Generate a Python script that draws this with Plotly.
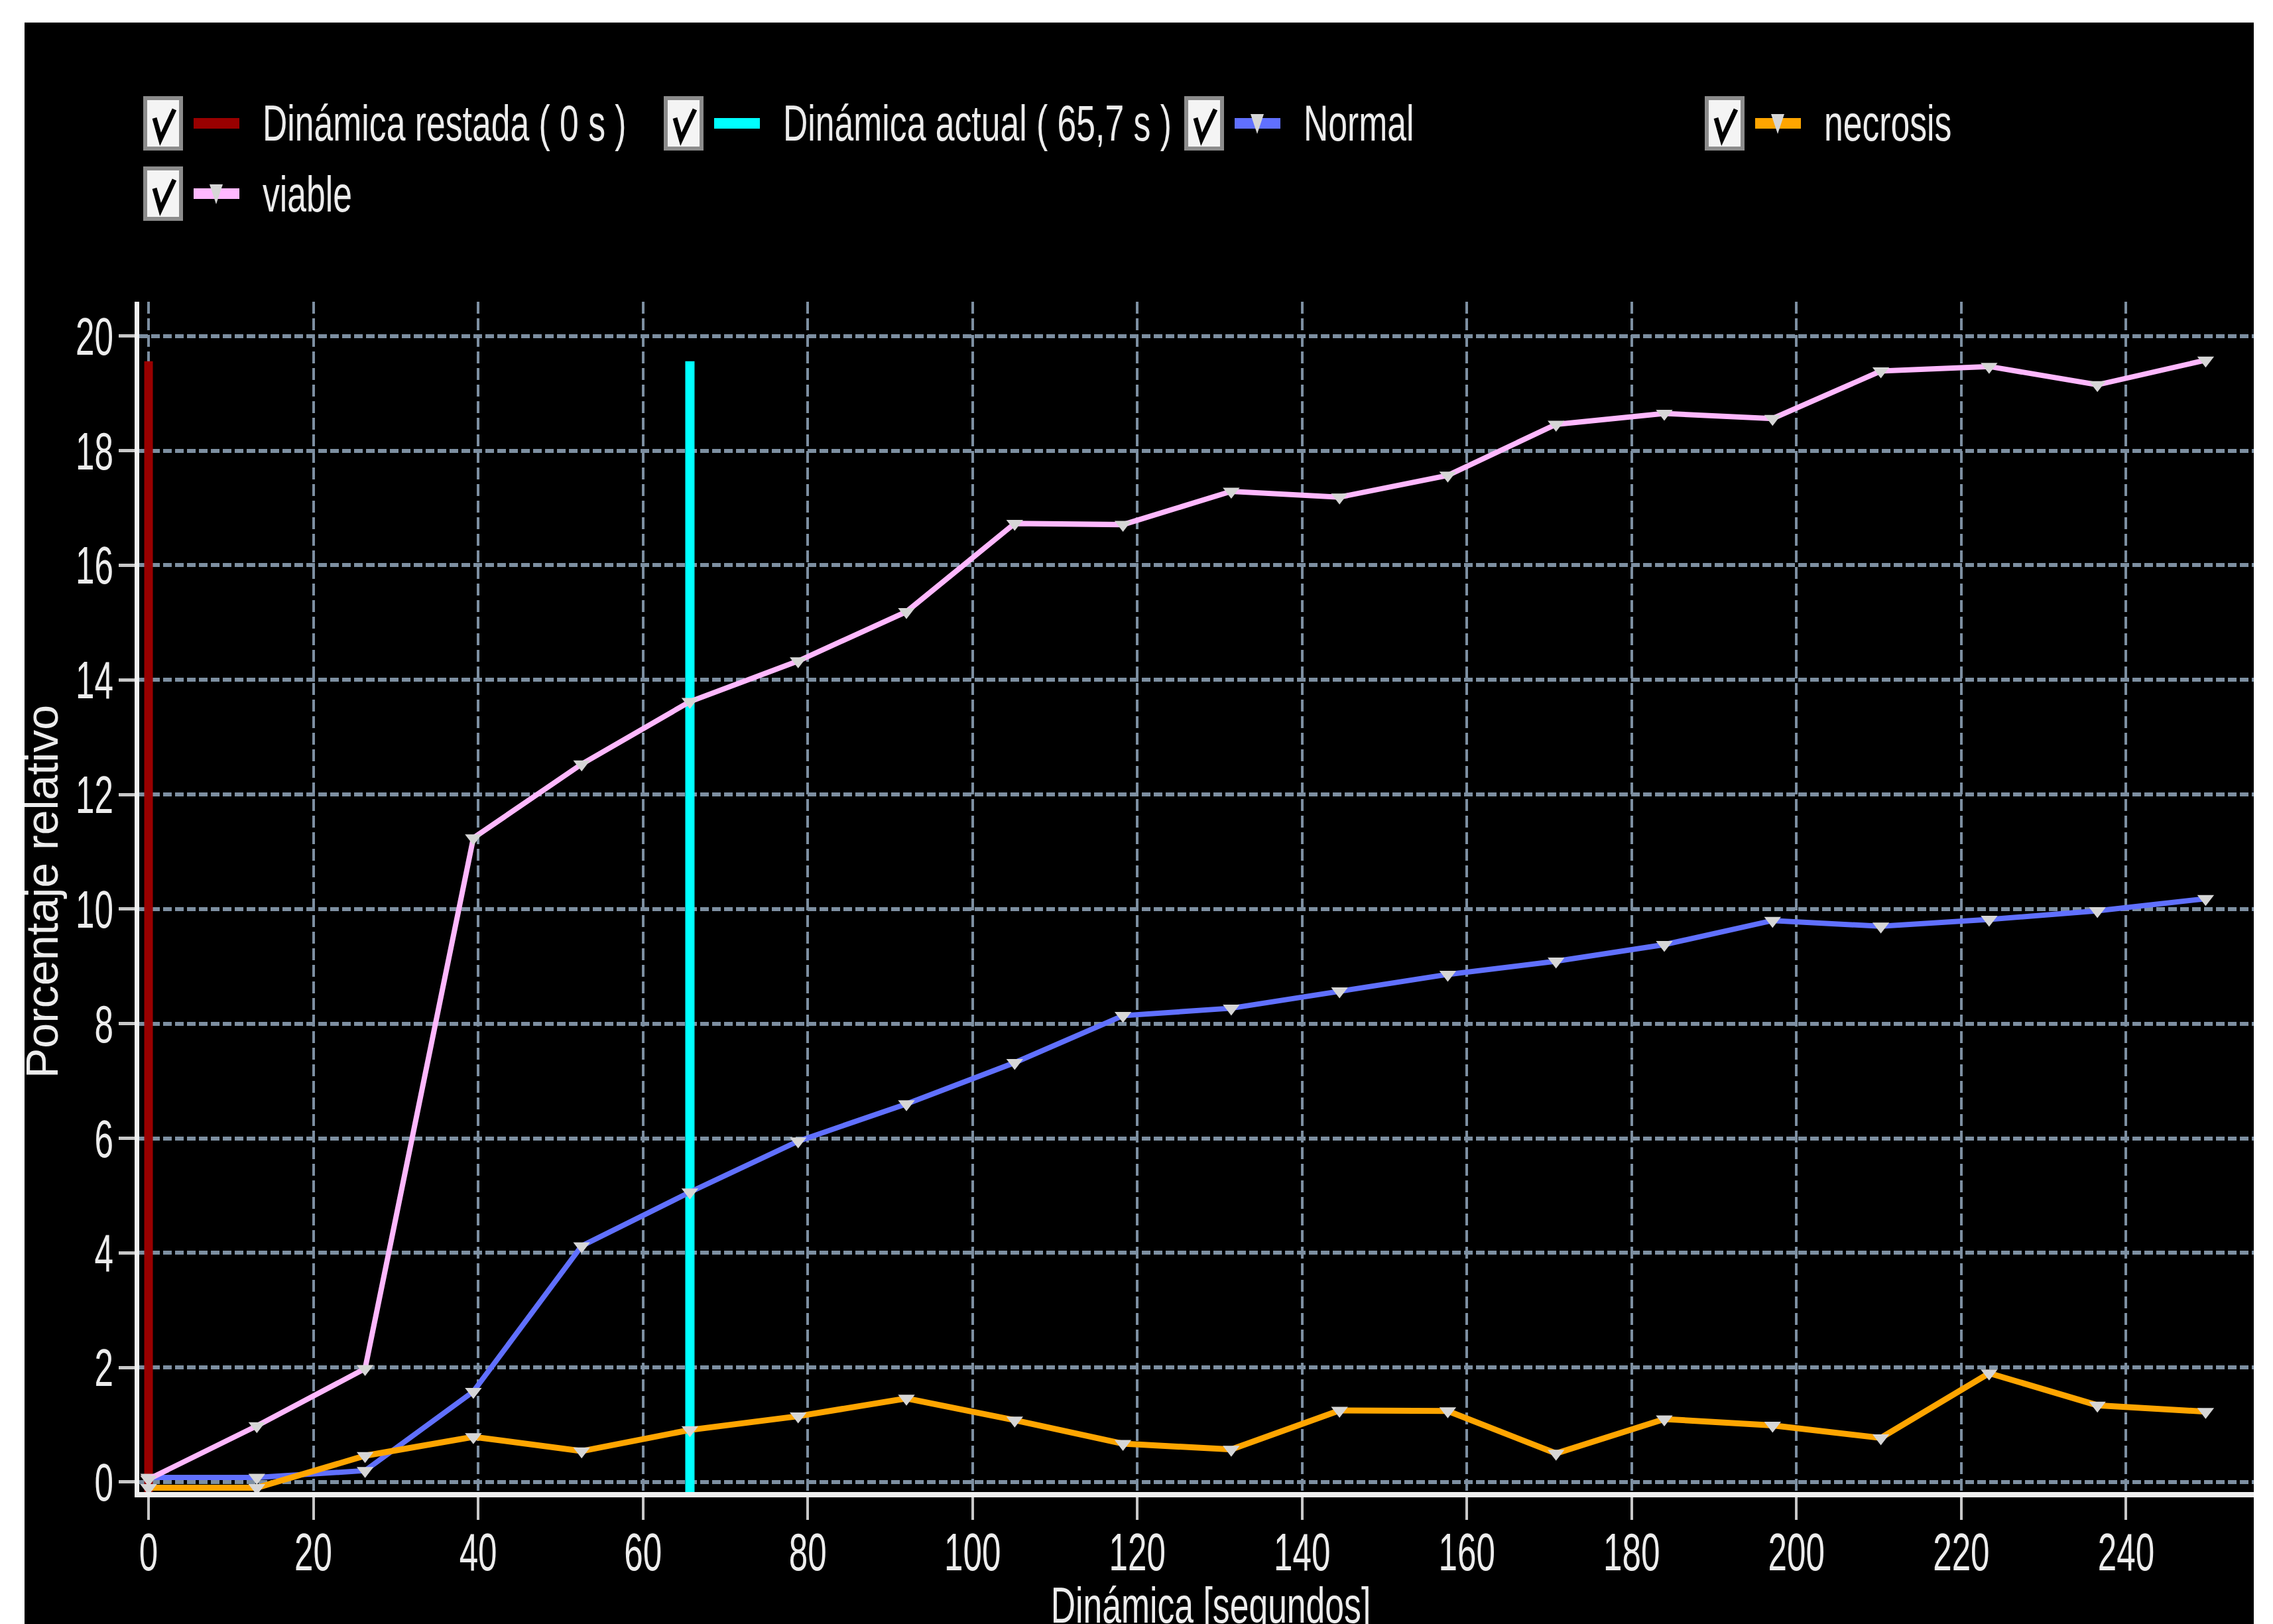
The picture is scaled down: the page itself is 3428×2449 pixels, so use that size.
import plotly.graph_objects as go

# ---------------- data ----------------
tiempo = [0, 13.14, 26.28, 39.42, 52.56, 65.7, 78.84, 91.98, 105.12, 118.26,
          131.4, 144.54, 157.68, 170.82, 183.96, 197.1, 210.24, 223.38, 236.52, 249.66]
normal = [0.08, 0.08, 0.2, 1.58, 4.12, 5.06, 5.95, 6.6, 7.32, 8.14,
          8.27, 8.57, 8.86, 9.09, 9.38, 9.8, 9.7, 9.82, 9.97, 10.18]
necrosis = [-0.1, -0.1, 0.46, 0.79, 0.54, 0.91, 1.15, 1.46, 1.08, 0.67,
            0.57, 1.25, 1.24, 0.5, 1.1, 0.99, 0.77, 1.9, 1.34, 1.23]
viable = [0.05, 0.98, 1.98, 11.24, 12.53, 13.62, 14.33, 15.19, 16.73, 16.71,
          17.29, 17.19, 17.57, 18.46, 18.65, 18.56, 19.39, 19.47, 19.15, 19.58]

t_restada = 0.0      # Dinámica restada (0 s)
t_actual = 65.7      # Dinámica actual (65,7 s)
marcador_y = [-0.2, 19.56]

x_ticks = [0, 20, 40, 60, 80, 100, 120, 140, 160, 180, 200, 220, 240]
y_ticks = [0, 2, 4, 6, 8, 10, 12, 14, 16, 18, 20]

legend_labels = ["Dinámica restada ( 0 s )", "Dinámica actual ( 65,7 s )",
                 "Normal", "necrosis", "viable"]
x_title = "Dinámica [segundos]"
y_title = "Porcentaje relativo"

# ---------------- style ----------------
W, H = 3428, 2449
L, R, T, B = 210, 29, 455, 199
PW, PH = W - L - R, H - T - B

FONT = "'Liberation Sans', Arial, sans-serif"
TXT = "#ececec"
C_RED, C_CYAN = "#990000", "#00ffff"
C_NORMAL, C_NECRO, C_VIABLE = "#6070ff", "#ffa500", "#ffb8ff"
C_MARK = "#d6d6d6"
GRID = "#7d8fa1"


def px(x):
    return (x - L) / PW


def py(y):
    return (H - B - y) / PH


fig = go.Figure()

# vertical reference lines
fig.add_trace(go.Scatter(x=[t_restada, t_restada], y=marcador_y, mode="lines",
                         line=dict(color=C_RED, width=13), name=legend_labels[0],
                         showlegend=False))
fig.add_trace(go.Scatter(x=[t_actual, t_actual], y=marcador_y, mode="lines",
                         line=dict(color=C_CYAN, width=14), name=legend_labels[1],
                         showlegend=False))

for vals, col, name, lw in [(normal, C_NORMAL, legend_labels[2], 8),
                            (necrosis, C_NECRO, legend_labels[3], 9),
                            (viable, C_VIABLE, legend_labels[4], 8)]:
    fig.add_trace(go.Scatter(
        x=tiempo, y=vals, mode="lines+markers", name=name, showlegend=False,
        line=dict(color=col, width=lw),
        marker=dict(symbol="triangle-down", size=22, color=C_MARK, line=dict(width=0)),
    ))

# black panel behind everything
fig.add_shape(type="rect", xref="paper", yref="paper", layer="below",
              x0=px(37), x1=px(W - R), y0=py(H + 5), y1=py(34),
              fillcolor="black", line=dict(width=0))

# custom legend with check boxes
legend_pos = [(246, 186), (1031, 186), (1816, 186), (2601, 186), (246, 292)]
legend_cols = [C_RED, C_CYAN, C_NORMAL, C_NECRO, C_VIABLE]
legend_mark = [False, False, True, True, True]
legend_box_w = [575, 605, 195, 220, 160]
for (cx, cy), lab, col, mk, bw in zip(legend_pos, legend_labels, legend_cols,
                                      legend_mark, legend_box_w):
    fig.add_shape(type="rect", xref="paper", yref="paper",
                  x0=px(cx - 27), x1=px(cx + 27), y0=py(cy + 38), y1=py(cy - 38),
                  fillcolor="#f4f4f4", line=dict(color="#8c8c8c", width=6))
    fig.add_shape(type="path", xref="paper", yref="paper",
                  path=f"M {px(cx-13)},{py(cy-8)} L {px(cx-4)},{py(cy+24)} L {px(cx+17)},{py(cy-21)}",
                  line=dict(color="black", width=7))
    fig.add_shape(type="rect", xref="paper", yref="paper",
                  x0=px(cx + 46), x1=px(cx + 115), y0=py(cy + 8), y1=py(cy - 8),
                  fillcolor=col, line=dict(width=0))
    if mk:
        fig.add_shape(type="path", xref="paper", yref="paper",
                      path=(f"M {px(cx+70)},{py(cy-14)} L {px(cx+90)},{py(cy-14)} "
                            f"L {px(cx+80)},{py(cy+16)} Z"),
                      fillcolor=C_MARK, line=dict(width=0))
    fig.add_annotation(x=px(cx + 148), y=py(cy), xref="paper", yref="paper",
                       xanchor="left", yanchor="middle", align="left", showarrow=False,
                       width=bw, text=lab, font=dict(family=FONT, size=76, color=TXT))

# axis titles
fig.add_annotation(x=px(1826), y=py(2420), xref="paper", yref="paper",
                   xanchor="center", yanchor="middle", showarrow=False, text=x_title,
                   width=510, font=dict(family=FONT, size=76, color=TXT))
fig.add_annotation(x=px(63), y=py(1345), xref="paper", yref="paper",
                   xanchor="center", yanchor="middle", showarrow=False, text=y_title,
                   textangle=-90, font=dict(family=FONT, size=68, color=TXT))

fig.update_layout(
    width=W, height=H, autosize=False,
    margin=dict(l=L, r=R, t=T, b=B, pad=0),
    paper_bgcolor="white", plot_bgcolor="black",
    showlegend=False,
    font=dict(family=FONT, size=76, color=TXT),
)
fig.update_xaxes(
    range=[-1.13, 255.5], tickmode="array", tickvals=x_ticks,
    ticktext=[str(v) for v in x_ticks],
    showgrid=True, gridcolor=GRID, gridwidth=4, griddash="18px,7px",
    zeroline=False, showline=True, linecolor="#f0f0f0", linewidth=8,
    ticks="outside", ticklen=34, tickwidth=4, tickcolor="#c8c8c8",
    ticklabelstandoff=-20,
    tickfont=dict(family=FONT, size=80, color=TXT),
)
fig.update_yaxes(
    range=[-0.174, 20.6], tickmode="array", tickvals=y_ticks,
    ticktext=[str(v) for v in y_ticks],
    showgrid=True, gridcolor=GRID, gridwidth=6, griddash="13px,5px",
    zeroline=False, showline=True, linecolor="#f0f0f0", linewidth=7,
    ticks="outside", ticklen=24, tickwidth=5, tickcolor="#c8c8c8",
    ticklabelstandoff=-8,
    tickfont=dict(family=FONT, size=80, color=TXT),
)

# the reference's lettering is tall and narrow: compress glyphs horizontally
squash_js = """
var gd = document.getElementById('{plot_id}');
function squash(sel, f) {
  gd.querySelectorAll(sel).forEach(function (t) {
    if (t.textContent === '%s') { return; }
    var w = t.getComputedTextLength();
    if (w > 0) {
      t.setAttribute('textLength', (w * f).toFixed(2));
      t.setAttribute('lengthAdjust', 'spacingAndGlyphs');
    }
  });
}
squash('g.xtick text, g.ytick text', 0.64);
squash('g.annotation text', 0.68);
""" % y_title

fig.write_html("out.html", post_script=squash_js)
